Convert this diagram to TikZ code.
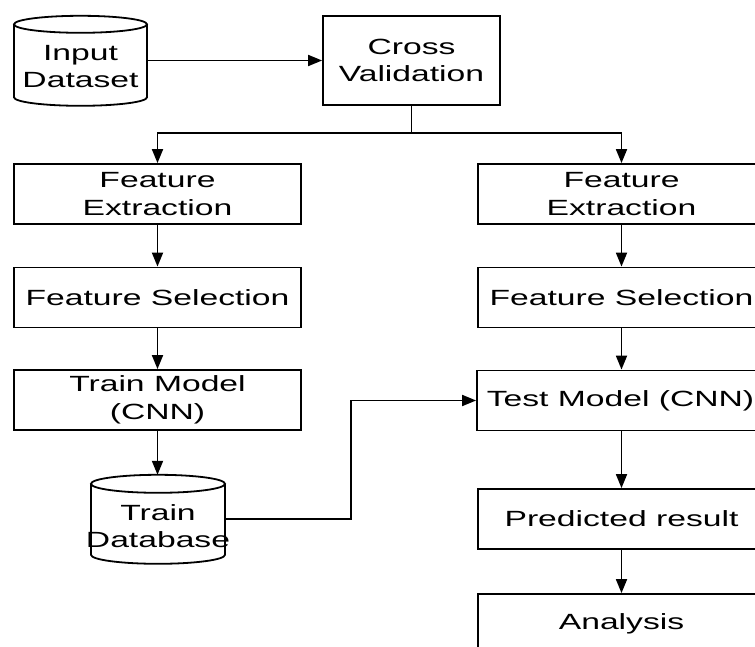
\documentclass[tikz,border=0pt]{standalone}
\usepackage{fontspec}
\setmainfont{Liberation Sans}[FakeStretch=1.53]
\usetikzlibrary{arrows.meta,calc}
\newcommand{\drawcyl}[4]{% name, half width, height, ry
  \draw[conn] ($(#1.north)+(-#2,-#4)$) -- ($(#1.north)+(-#2,-#3+#4)$)
    arc[start angle=180,end angle=360,x radius=#2,y radius=#4]
    -- ($(#1.north)+(#2,-#4)$);
  \draw[conn] ($(#1.north)+(0,-#4)$) ellipse [x radius=#2, y radius=#4];
}
\tikzset{
  txt/.style={align=center, inner sep=0pt, font=\fontsize{22}{27.5}\selectfont},
  box/.style={txt, draw, line width=1.8pt, minimum width=287pt, minimum height=60pt},
  conn/.style={line width=1.8pt},
  arr/.style={conn, -{Triangle[length=14pt,width=11pt]}}
}
\begin{document}
\begin{tikzpicture}[x=1pt,y=1pt]
\useasboundingbox (0,0) rectangle (755,-647);
\clip (0,0) rectangle (755,-647);
\fill[white] (0,0) rectangle (755,-647);

% nodes
\node[txt, minimum width=133pt, minimum height=101pt] (in) at (80.5,-66.5) {Input\\Dataset};
\drawcyl{in}{66.5}{90}{8.5}
\node[box, minimum width=177pt, minimum height=89pt] (cv) at (411.5,-60.5) {Cross\\Validation};

\node[box] (fe1) at (157.5,-194) {Feature\\Extraction};
\node[box] (fs1) at (157.5,-297.5) {Feature Selection};
\node[box] (tm) at (157.5,-400) {Train Model\\(CNN)};
\node[txt, minimum width=134pt, minimum height=102pt] (tdb) at (158,-526) {Train\\Database};
\drawcyl{tdb}{67}{89}{9}

\node[box] (fe2) at (621.5,-194) {Feature\\Extraction};
\node[box] (fs2) at (621.5,-297.5) {Feature Selection};
\node[box] (test) at (620.5,-400.5) {Test Model (CNN)};
\node[box] (pr) at (621.5,-519) {Predicted result};
\node[box] (an) at (621.5,-624) {Analysis};

\coordinate (split) at (411.5,-133);
\coordinate (tdbout) at (225,-519);
\coordinate (bend) at (351,-400.5);

% connectors
\draw[arr] (cv.west -| in.east) -- (cv.west);
\draw[conn] (cv.south) -- (split);
\draw[arr] (split) -| (fe1.north);
\draw[arr] (split) -| (fe2.north);
\draw[arr] (fe1) -- (fs1);
\draw[arr] (fs1) -- (tm);
\draw[arr] (tm.south) -- (tm.south |- tdb.north);
\draw[arr] (fe2) -- (fs2);
\draw[arr] (fs2) -- (fe2.south |- test.north);
\draw[arr] (fe2.south |- test.south) -- (pr);
\draw[arr] (pr) -- (an);
\draw[arr] (tdbout) -| (bend) -- (test.west);
\end{tikzpicture}
\end{document}
